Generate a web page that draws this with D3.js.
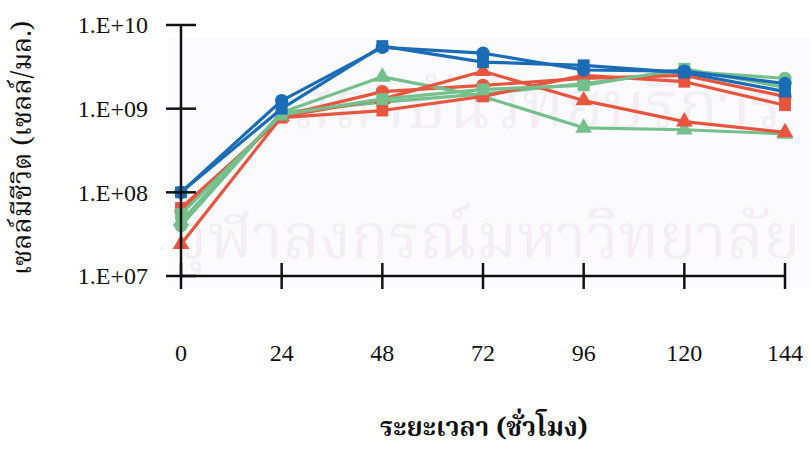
<!DOCTYPE html>
<html><head><meta charset="utf-8">
<script src="https://cdn.jsdelivr.net/npm/d3@7"></script>
<style>body{margin:0;background:#fff}svg{display:block}</style>
</head><body>
<svg id="c" width="810" height="452"></svg>
<script>
const hours = [0, 24, 48, 72, 96, 120, 144];
const yTicks = [1e7, 1e8, 1e9, 1e10];
const yTickLabels = ["1.E+07", "1.E+08", "1.E+09", "1.E+10"];
const blueSquare  = [1.0e8, 1.0e9, 5.6e9, 3.6e9, 3.3e9, 2.7e9, 1.6e9];
const blueCircle  = [1.0e8, 1.25e9, 5.4e9, 4.6e9, 2.9e9, 2.8e9, 2.0e9];
const redSquare   = [6.5e7, 7.8e8, 9.5e8, 1.4e9, 2.5e9, 2.1e9, 1.1e9];
const redTriangle = [2.4e7, 8.0e8, 1.3e9, 2.8e9, 1.25e9, 7.0e8, 5.2e8];
const redCircle   = [6.0e7, 8.2e8, 1.6e9, 1.9e9, 2.3e9, 2.5e9, 1.4e9];
const greenTriangle = [4.5e7, 9.0e8, 2.4e9, 1.4e9, 5.9e8, 5.6e8, 5.0e8];
const greenSquare   = [5.5e7, 8.5e8, 1.3e9, 1.7e9, 1.9e9, 3.0e9, 1.8e9];
const greenCircle   = [4.0e7, 9.0e8, 1.2e9, 1.5e9, 2.0e9, 2.8e9, 2.3e9];
const xTitle = "ระยะเวลา (ชั่วโมง)";
const yTitle = "เซลล์มีชีวิต (เซลล์/มล.)";

const BLUE = "#1b6cb6", RED = "#e8553f", GREEN = "#74c08c";
const series = [
  {v: greenCircle, c: GREEN, m: d3.symbolCircle},
  {v: redCircle, c: RED, m: d3.symbolCircle},
  {v: greenTriangle, c: GREEN, m: d3.symbolTriangle},
  {v: redTriangle, c: RED, m: d3.symbolTriangle},
  {v: redSquare, c: RED, m: d3.symbolSquare},
  {v: greenSquare, c: GREEN, m: d3.symbolSquare},
  {v: blueCircle, c: BLUE, m: d3.symbolCircle},
  {v: blueSquare, c: BLUE, m: d3.symbolSquare}
];

const svg = d3.select("#c");
const x = d3.scaleLinear().domain([0, 144]).range([181, 785]);
const y = d3.scaleLog().domain([1e7, 1e10]).range([276, 25]);
const thai = "'Noto Serif Thai','Noto Sans Thai','Loma','Garuda','Norasi',serif";

// faint background / watermark
svg.append("rect").attr("x", 168).attr("y", 38).attr("width", 642).attr("height", 250).attr("fill", "#fbfafc");
svg.append("text").attr("x", 292).attr("y", 128).attr("font-family", thai).attr("font-size", 66)
  .attr("fill", "#f2eef4").text("สถาบันวิทยบริการ");
svg.append("text").attr("x", 172).attr("y", 258).attr("font-family", thai).attr("font-size", 62)
  .attr("fill", "#f2eef4").text("จุฬาลงกรณ์มหาวิทยาลัย");

// series
const line = d3.line().x((d, i) => x(hours[i])).y(d => y(d));
series.forEach(s => {
  svg.append("path").datum(s.v).attr("d", line).attr("fill", "none")
    .attr("stroke", s.c).attr("stroke-width", 3.2).attr("stroke-linejoin", "round");
  svg.selectAll(null).data(s.v).enter().append("path")
    .attr("transform", (d, i) => `translate(${x(hours[i])},${y(d)})`)
    .attr("d", d3.symbol().type(s.m).size(s.m === d3.symbolTriangle ? 120 : 140))
    .attr("fill", s.c);
});

// axes
const ax = svg.append("g").attr("stroke", "#111").attr("stroke-width", 2.5);
ax.append("line").attr("x1", 181).attr("x2", 181).attr("y1", y(1e10)).attr("y2", y(1e7));
ax.append("line").attr("x1", 181).attr("x2", 785).attr("y1", y(1e7)).attr("y2", y(1e7));
ax.selectAll(null).data(yTicks).enter().append("line")
  .attr("x1", 166).attr("x2", 196).attr("y1", d => y(d)).attr("y2", d => y(d));
ax.selectAll(null).data(hours).enter().append("line")
  .attr("x1", d => x(d)).attr("x2", d => x(d)).attr("y1", y(1e7) - 13).attr("y2", y(1e7) + 13);

svg.selectAll(null).data(yTicks).enter().append("text")
  .attr("x", 148).attr("y", d => y(d)).attr("dy", "0.35em").attr("text-anchor", "end")
  .attr("font-family", "'Liberation Serif',serif").attr("font-size", 24).attr("fill", "#111")
  .text((d, i) => yTickLabels[i]);
svg.selectAll(null).data(hours).enter().append("text")
  .attr("x", d => x(d)).attr("y", 361).attr("text-anchor", "middle")
  .attr("font-family", "'Liberation Serif',serif").attr("font-size", 24).attr("fill", "#111")
  .text(d => d);

svg.append("text").attr("x", 484).attr("y", 436).attr("text-anchor", "middle")
  .attr("font-family", thai).attr("font-weight", "bold").attr("font-size", 26).attr("fill", "#111")
  .text(xTitle);
svg.append("text").attr("transform", "translate(31,148) rotate(-90)").attr("text-anchor", "middle")
  .attr("font-family", thai).attr("font-size", 27).attr("fill", "#111")
  .text(yTitle);
</script>
</body></html>
